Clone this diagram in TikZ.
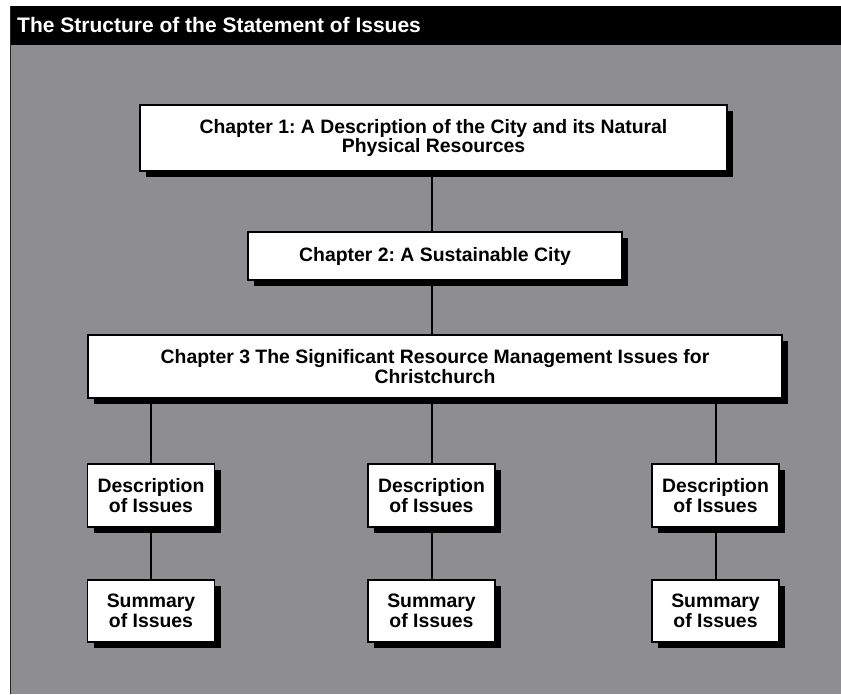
\documentclass[tikz,border=0pt]{standalone}
\usepackage{fontspec}
\setmainfont{Liberation Sans}
\usetikzlibrary{shadows}
\definecolor{bggray}{RGB}{142,141,143}
\frenchspacing
\begin{document}
\begin{tikzpicture}[x=1pt,y=-1pt,
  box/.style={draw=black, line width=1.4pt, fill=white, inner sep=0pt,
    align=center, font=\bfseries\fontsize{19.4}{19.5}\selectfont,
    drop shadow={shadow xshift=6pt, shadow yshift=-6pt, fill=black, opacity=1}},
  link/.style={line width=2pt, black}]
\useasboundingbox (0,0) rectangle (841,694);
\fill[white] (0,0) rectangle (841,694);
\fill[bggray] (10,45) rectangle (841,694);
\fill[black] (10,6) rectangle (841,45);
\draw[line width=1.5pt, black!85] (10.5,6) -- (10.5,694);
\node[anchor=base west, text=white, font=\bfseries\fontsize{21}{22}\selectfont, inner sep=0pt] (title) at (17,32) {The Structure of the Statement of Issues};

\node[box, minimum width=587pt, minimum height=66pt] (ch1) at (433.5,138) {Chapter 1: A Description of the City and its Natural\\Physical Resources};
\node[box, minimum width=374pt, minimum height=48pt] (ch2) at (435,256) {Chapter 2: A Sustainable City};
\node[box, minimum width=694pt, minimum height=63pt] (ch3) at (435,366.5) {Chapter 3 The Significant Resource Management Issues for\\Christchurch};

\node[box, minimum width=127pt, minimum height=63pt] (d1) at (151,495.5) {Description\\of Issues};
\node[box, minimum width=127pt, minimum height=63pt] (d2) at (431.5,495.5) {Description\\of Issues};
\node[box, minimum width=127pt, minimum height=63pt] (d3) at (715.5,495.5) {Description\\of Issues};
\node[box, minimum width=127pt, minimum height=62pt] (s1) at (151,611) {Summary\\of Issues};
\node[box, minimum width=127pt, minimum height=62pt] (s2) at (431.5,611) {Summary\\of Issues};
\node[box, minimum width=127pt, minimum height=62pt] (s3) at (715.5,611) {Summary\\of Issues};

\draw[link] (ch1.south -| d2.north) -- (ch2.north -| d2.north);
\draw[link] (ch2.south -| d2.north) -- (ch3.north -| d2.north);
\draw[link] (ch3.south -| d1.north) -- (d1.north);
\draw[link] (ch3.south -| d2.north) -- (d2.north);
\draw[link] (ch3.south -| d3.north) -- (d3.north);
\draw[link] (d1.south) -- (s1.north);
\draw[link] (d2.south) -- (s2.north);
\draw[link] (d3.south) -- (s3.north);
\end{tikzpicture}
\end{document}
